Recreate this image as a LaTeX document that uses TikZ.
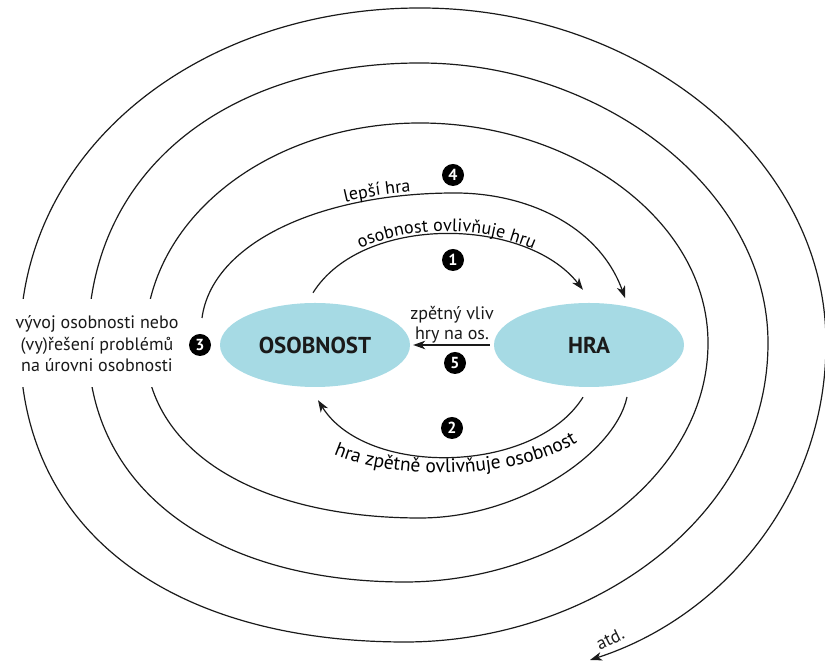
\documentclass[tikz,border=0pt]{standalone}
\usepackage{fontspec}
\setmainfont{PT Sans}
\usetikzlibrary{arrows.meta,shapes.geometric,decorations.text}
\definecolor{bubble}{HTML}{A6DAE4}
\definecolor{ink}{HTML}{1A1A1A}
\begin{document}
\begin{tikzpicture}[x=1pt,y=1pt,
  line/.style={draw=ink, line width=1.2pt},
  tip/.style={-{Stealth[length=12pt,width=8.5pt,inset=3.5pt]}},
  bubble/.style={ellipse, fill=bubble, minimum width=190pt, minimum height=84pt,
    inner sep=0pt, text=ink, font=\fontsize{23}{26}\selectfont\bfseries},
  badge/.style={circle, fill=black, text=white, minimum size=22pt, inner sep=0pt,
    font=\fontsize{16}{16}\selectfont\bfseries},
  lbl/.style={font=\fontsize{18}{21.5}\selectfont, text=ink, align=center, inner sep=0pt},
  alongc/.style={decorate, decoration={text along path, text align=center,
    text={|\fontsize{19.5}{21}\selectfont|#1}}},
]
\useasboundingbox (0,0) rectangle (825,668);

% the two bubbles
\node[bubble] (osob) at (315,323) {OSOBNOST};
\node[bubble] (hra)  at (589,323) {HRA};

% free ends of the spiral
\coordinate (p4)   at (202,350);
\coordinate (h4)   at (625,370);
\coordinate (pA)   at (627,271);
\coordinate (pEnd) at (590,8);

% widening spiral around both bubbles
\draw[line,tip] (pA) .. controls (615,215) and (520,150) .. (420,150)
  .. controls (260,150) and (145,215) .. (145,325)
  .. controls (145,450) and (270,545) .. (420,545)
  .. controls (570,545) and (708,450) .. (708,325)
  .. controls (708,190) and (560,86) .. (405,86)
  .. controls (220,86) and (88,175) .. (88,325)
  .. controls (88,500) and (230,605) .. (420,605)
  .. controls (600,605) and (768,480) .. (768,325)
  .. controls (768,150) and (590,26) .. (405,26)
  .. controls (180,26) and (20,130) .. (20,325)
  .. controls (20,520) and (200,660) .. (420,660)
  .. controls (640,660) and (826,510) .. (826,325)
  .. controls (826,170) and (720,50) .. (pEnd);

% opening in the spiral for the side text
\fill[white] (-2,281) rectangle (190,369);

% loop 4: better play
\draw[line,tip] (p4) .. controls (212,425) and (320,475) .. (455,475)
  .. controls (530,475) and (600,440) .. (h4);
\path[decorate, decoration={text along path, raise=3pt,
    text align={right, right indent=44pt},
    text={|\fontsize{18}{20}\selectfont|lepší hra}}]
  (p4) .. controls (212,425) and (320,475) .. (455,475);

% loop 1: personality -> play
\draw[line,tip] ([shift={(-2,10)}]osob.north) to[out=58,in=128,looseness=0.88]
  ([shift={(-6,13)}]hra.north);
\path[decorate, decoration={text along path, raise=3pt, text align=center,
    text={|\fontsize{18}{20}\selectfont|osobnost ovlivňuje hru}}]
  ([shift={(-2,10)}]osob.north) to[out=58,in=128,looseness=0.88]
  ([shift={(-6,13)}]hra.north);

% loop 2: play -> personality
\draw[line,tip] ([shift={(-6,-10)}]hra.south) to[out=-122,in=-58,looseness=0.88]
  ([shift={(3,-13)}]osob.south);
\path[alongc={hra zpětně ovlivňuje osobnost}]
  (318,222) .. controls (375,186) and (525,182) .. (592,236);

% 5: direct feedback
\draw[line,tip,shorten <=4pt,shorten >=3pt] (hra.west) -- (osob.east);
\node[lbl, font=\fontsize{18}{20}\selectfont] (fb) at (452,343) {zpětný vliv\\hry na os.};

% side text
\node[lbl] (dev) at (97,324) {vývoj osobnosti nebo\\(vy)řešení problémů\\na úrovni osobnosti};
\node[lbl, rotate=26] (etc) at (610,29) {atd.};

% numbered badges
\node[badge] (n1) at (453,408) {1};
\node[badge] (n2) at (452,240) {2};
\node[badge] (n3) at (200,323) {3};
\node[badge] (n4) at (453,493) {4};
\node[badge] (n5) at (455,305) {5};
\end{tikzpicture}
\end{document}
